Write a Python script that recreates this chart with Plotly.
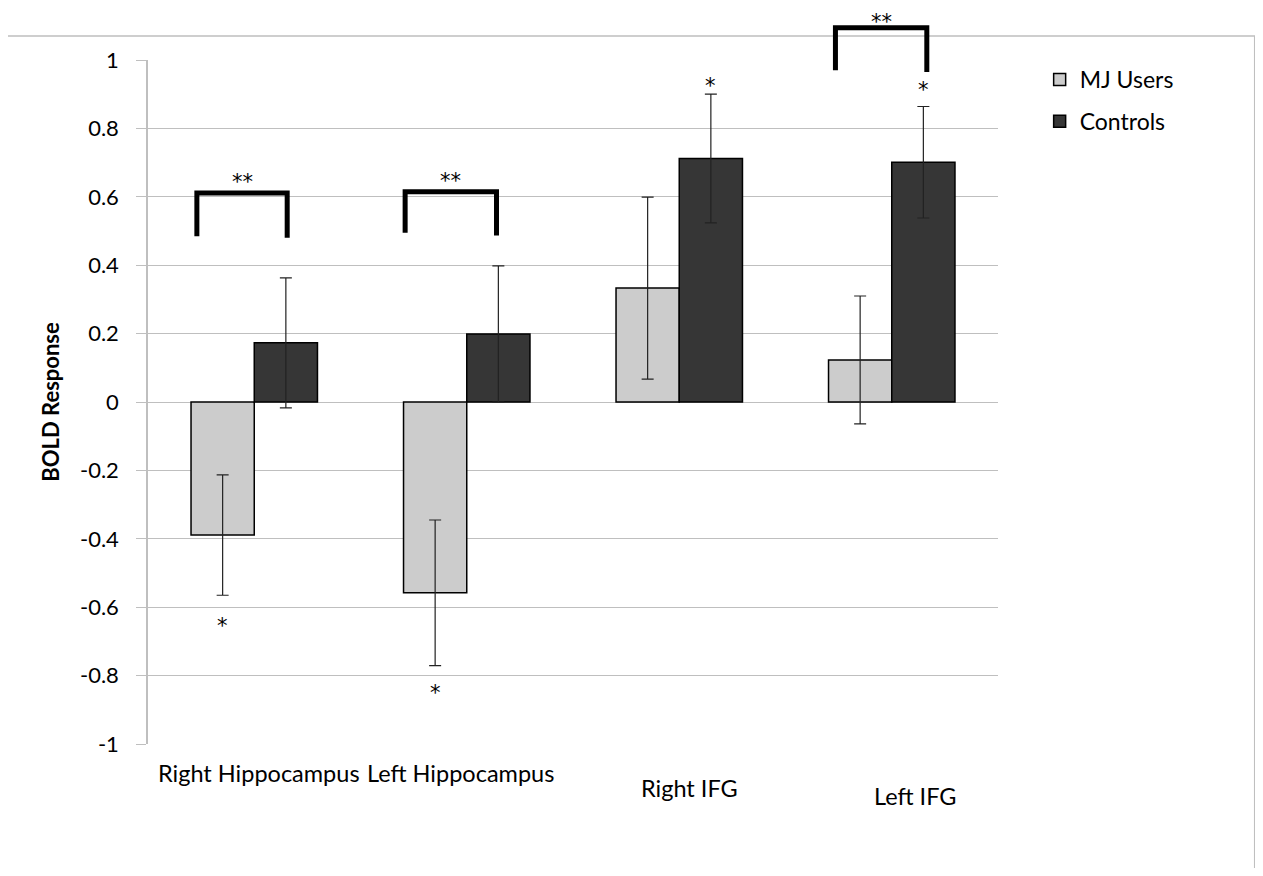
import plotly.graph_objects as go

categories = ["Right Hippocampus", "Left Hippocampus", "Right IFG", "Left IFG"]
mj_users = [-0.389, -0.558, 0.333, 0.123]
mj_err = [0.176, 0.213, 0.266, 0.187]
controls = [0.173, 0.199, 0.712, 0.701]
ctrl_err = [0.19, 0.199, 0.188, 0.163]
y_ticks = [-1, -0.8, -0.6, -0.4, -0.2, 0, 0.2, 0.4, 0.6, 0.8, 1]
y_tick_text = ["-1", "-0.8", "-0.6", "-0.4", "-0.2", "0", "0.2", "0.4", "0.6", "0.8", "1"]
Y_RANGE = [-1, 1]

# significance brackets: (category index, left offset, right offset, top y, left bottom, right bottom)
brackets = [
    (0, -0.27, 0.155, 0.611, 0.485, 0.48),
    (1, -0.29, 0.14, 0.615, 0.495, 0.487),
    (3, -0.265, 0.165, 1.094, 0.97, 0.965),
]
# pixel lift of the "**" label above each bracket (limited at the top edge)
bracket_star_lift = [24, 24, 19]
# single-star markers: (category index, bar offset, y value)
single_stars = [
    (0, -0.149, -0.643),
    (1, -0.149, -0.84),
    (2, 0.149, 0.936),
    (3, 0.149, 0.924),
]
label_offsets = [0.02, -0.03, 0.05, 0.11]
label_y = [-0.0424, -0.0424, -0.0643, -0.076]

FONT = "Lato, 'Open Sans', sans-serif"
STAR_FONT = "'DejaVu Sans', sans-serif"


def to_paper(v):
    return (v - Y_RANGE[0]) / (Y_RANGE[1] - Y_RANGE[0])


fig = go.Figure()
fig.add_trace(go.Bar(
    name="MJ Users", x=categories, y=mj_users,
    marker=dict(color="#cccccc", line=dict(color="black", width=1.5)),
    error_y=dict(type="data", array=mj_err, color="#222222", thickness=1.2, width=6),
    legendgroup="a",
))
fig.add_trace(go.Bar(
    name="Controls", x=categories, y=controls,
    marker=dict(color="#363636", line=dict(color="black", width=1.5)),
    error_y=dict(type="data", array=ctrl_err, color="#222222", thickness=1.2, width=6),
    legendgroup="b",
))

shapes = []
annotations = []
for (ci, lo, ro, top, lb, rb), lift in zip(brackets, bracket_star_lift):
    xl = ci + lo
    xr = ci + ro
    shapes.append(dict(type="path", xref="x", yref="paper",
                       path=f"M {xl},{to_paper(lb)} L {xl},{to_paper(top)} L {xr},{to_paper(top)} L {xr},{to_paper(rb)}",
                       line=dict(color="black", width=5)))
    annotations.append(dict(x=(xl + xr) / 2, y=to_paper(top), xref="x", yref="paper",
                            text="**", showarrow=False, yanchor="top", yshift=lift,
                            borderpad=0,
                            font=dict(size=21, color="black", family=STAR_FONT)))
for (ci, off, yy) in single_stars:
    annotations.append(dict(x=ci + off, y=to_paper(yy), xref="x", yref="paper", text="*",
                            showarrow=False, yanchor="middle", yshift=-4,
                            font=dict(size=21, color="black", family=STAR_FONT)))
for i, cat in enumerate(categories):
    annotations.append(dict(x=i + label_offsets[i], y=label_y[i], xref="x", yref="paper",
                            text=cat, showarrow=False, yanchor="middle",
                            font=dict(size=23.5, color="black", family=FONT)))

# outer chart border
shapes.append(dict(type="rect", xref="paper", yref="paper",
                   x0=-0.166, x1=1.302, y0=-0.3, y1=1.035,
                   line=dict(color="#bfbfbf", width=1.5), layer="below"))

fig.update_layout(
    width=1247, height=860,
    margin=dict(l=140, r=257, t=52, b=124),
    paper_bgcolor="white", plot_bgcolor="white",
    barmode="group", bargap=0.405, bargroupgap=0,
    font=dict(family=FONT, color="black"),
    showlegend=True,
    legend=dict(x=1.049, y=1.003, xanchor="left", yanchor="top",
                font=dict(size=23, family=FONT), traceorder="grouped",
                tracegroupgap=9, itemwidth=30),
    shapes=shapes, annotations=annotations,
)
fig.update_xaxes(showticklabels=False, showline=False, ticks="", showgrid=False,
                 range=[-0.5, 3.5])
fig.update_yaxes(range=Y_RANGE, tickvals=y_ticks, ticktext=y_tick_text,
                 showgrid=True, gridcolor="#bfbfbf", gridwidth=1.3,
                 showline=True, linecolor="#bfbfbf", linewidth=1.5,
                 ticks="outside", ticklen=10, tickcolor="#bfbfbf",
                 ticklabelstandoff=13,
                 tickfont=dict(size=22, family=FONT), zeroline=False,
                 title=dict(text="<b>BOLD Response</b>", font=dict(size=22, family=FONT), standoff=14))

fig.write_html("out.html")
